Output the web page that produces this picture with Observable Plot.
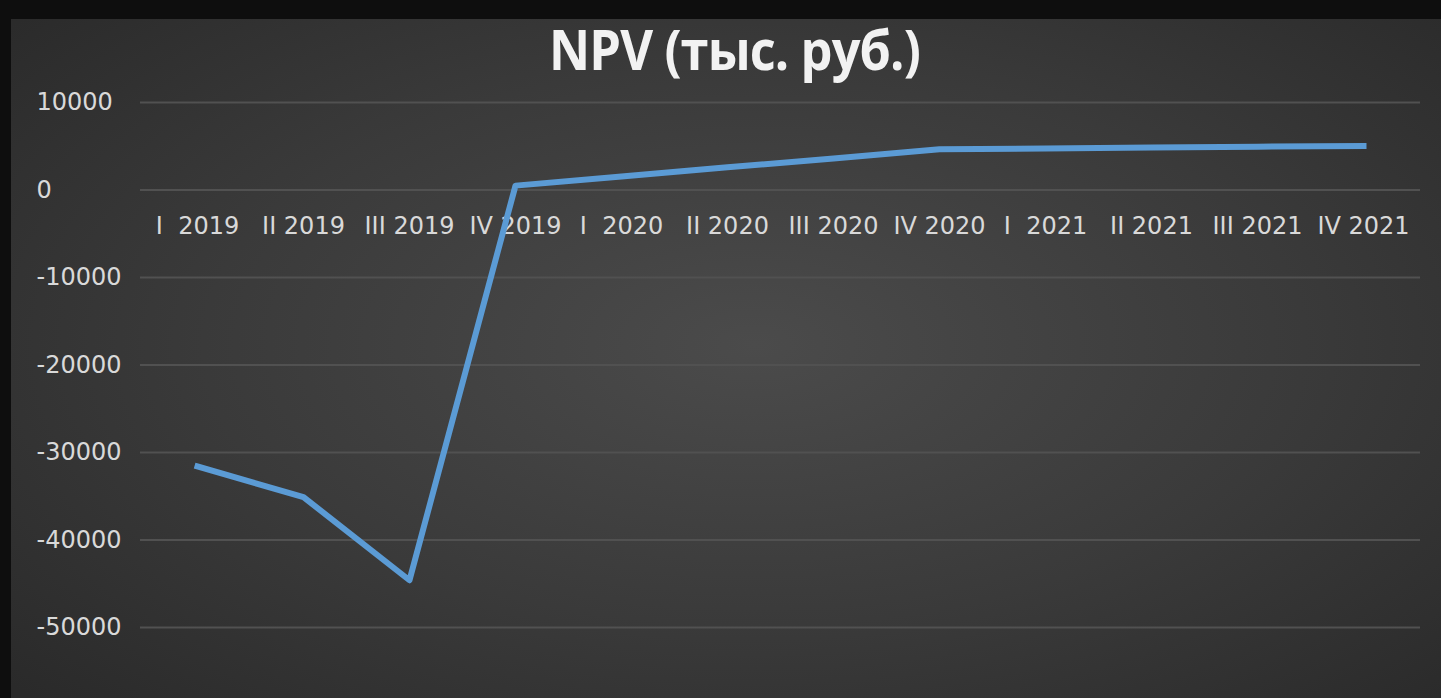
<!DOCTYPE html>
<html>
<head>
<meta charset="utf-8">
<script src="https://cdn.jsdelivr.net/npm/d3@7"></script>
<script src="https://cdn.jsdelivr.net/npm/@observablehq/plot@0.6"></script>
<style>
  html, body { margin: 0; padding: 0; background: #0e0e0e; width: 1441px; height: 698px; overflow: hidden; }
  #wrap { position: relative; width: 1441px; height: 698px; }
  #bg { position: absolute; left: 11px; top: 19px; right: 0; bottom: 0;
        background: radial-gradient(ellipse 70% 75% at 52% 48%, #4b4b4b 0%, #3a3a3a 55%, #2a2a2a 100%); }
  #title { position: absolute; left: 14px; width: 1441px; top: 11px; text-align: center;
           font-family: "Open Sans", sans-serif; font-weight: 700; font-size: 55px; color: #f2f2f2;
           letter-spacing: -1px; }
  #title span { display: inline-block; transform: scaleX(0.92); }
  #chart { position: absolute; left: 0; top: 0; }
</style>
</head>
<body>
<div id="wrap">
  <div id="bg"></div>
  <div id="chart"></div>
  <div id="title"><span>NPV (тыс. руб.)</span></div>
</div>
<script>
const categories = ["I  2019", "II 2019", "III 2019", "IV 2019", "I  2020", "II 2020", "III 2020", "IV 2020", "I  2021", "II 2021", "III 2021", "IV 2021"];
const npv = [-31600, -35100, -44600, 500, 1550, 2600, 3600, 4650, 4750, 4850, 4950, 5030];
const yTicks = [10000, 0, -10000, -20000, -30000, -40000, -50000];

const data = categories.map((c, i) => ({q: c, v: npv[i]}));

const plot = Plot.plot({
  width: 1441,
  height: 698,
  marginLeft: 140,
  marginRight: 21,
  marginTop: 102,
  marginBottom: 71,
  style: { background: "transparent", overflow: "visible" },
  x: { type: "point", domain: categories, padding: 0.5, axis: null },
  y: { domain: [-50000, 10000], axis: null },
  marks: [
    Plot.ruleY(yTicks, { stroke: "#515151", strokeWidth: 2 }),
    Plot.text(yTicks, {
      y: d => d, text: d => String(d), frameAnchor: "left", textAnchor: "start", dx: -104,
      fill: "#d9d9d9", fontSize: 24, fontFamily: "DejaVu Sans"
    }),
    Plot.text(categories, {
      x: d => d, y: () => 0, dy: 36, text: d => d,
      fill: "#d9d9d9", fontSize: 24, fontFamily: "DejaVu Sans"
    }),
    Plot.line(data, { x: "q", y: "v", stroke: "#5b9bd5", strokeWidth: 6, strokeLinejoin: "round", strokeLinecap: "square" })
  ]
});
document.getElementById("chart").appendChild(plot);
</script>
</body>
</html>
